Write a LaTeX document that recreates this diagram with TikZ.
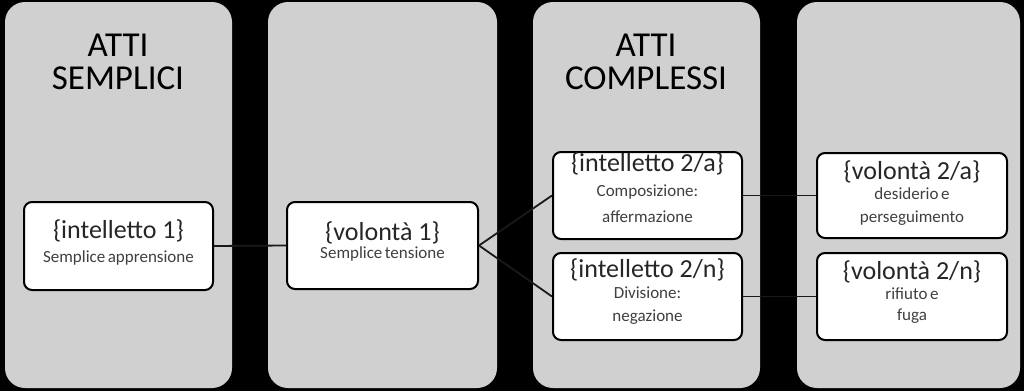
\documentclass[tikz,border=0pt]{standalone}
\usepackage{fontspec}
\setmainfont{Carlito}
\usetikzlibrary{calc}
\definecolor{colgray}{HTML}{D0D0D0}
\definecolor{maintxt}{HTML}{262626}
\definecolor{subtxt}{HTML}{404040}
\newcommand{\nsp}{\hspace{2.5pt}}
\tikzset{
  column/.style={fill=colgray, draw=none, rounded corners=20pt},
  box/.style={draw=black, line width=2pt, fill=white, rounded corners=8pt, inner sep=0pt},
  title/.style={font=\fontsize{35}{33}\selectfont, text=black, inner sep=0pt, align=center},
  maint/.style={font=\fontsize{26}{28}\selectfont, text=maintxt, inner sep=0pt},
  subt/.style={font=\fontsize{17}{19}\selectfont, text=subtxt, inner sep=0pt},
  conn/.style={draw=black!90, line width=1.8pt}
}
\begin{document}
\begin{tikzpicture}[x=1pt,y=-1pt]
\fill[black] (0,0) rectangle (1024,391);
\useasboundingbox (0,0) rectangle (1024,391);
% columns
\path[column] (5,2) rectangle (232,388);
\path[column] (268,2) rectangle (497,388);
\path[column] (533,2) rectangle (760,388);
\path[column] (797,2) rectangle (1020,388);
% titles
\node[title] (t1) at (118,61.5) {ATTI\\SEMPLICI};
\node[title] (t3) at (646,61.5) {ATTI\\COMPLESSI};
% boxes
\node[box, minimum width=189pt, minimum height=88pt] (i1) at (118.5,246) {};
\node[box, minimum width=191pt, minimum height=87pt] (v1) at (382.5,245.5) {};
\node[box, minimum width=189pt, minimum height=87pt] (i2a) at (647.5,195.5) {};
\node[box, minimum width=189pt, minimum height=87pt] (i2n) at (647.5,296.5) {};
\node[box, minimum width=190pt, minimum height=85pt] (v2a) at (912,195.5) {};
\node[box, minimum width=190pt, minimum height=87pt] (v2n) at (912,296.5) {};
% connectors
\draw[conn] (i1.east) -- (v1.west);
\draw[conn] (v1.east) -- (i2a.west);
\draw[conn] (v1.east) -- (i2n.west);
\draw[conn] (i2a.east) -- (v2a.west);
\draw[conn] (i2n.east) -- (v2n.west);
% texts
\node[maint] (i1m) at (118.5,231) {\{intelletto 1\}};
\node[subt] (i1s) at (118.5,258) {Semplice\nsp apprensione};
\node[maint] (v1m) at (382.5,233) {\{volontà 1\}};
\node[subt] (v1s) at (382.5,254) {Semplice\nsp tensione};
\node[maint] (i2am) at (647.5,164) {\{intelletto 2/a\}};
\node[subt] (i2as1) at (647.5,192) {Composizione:};
\node[subt] (i2as2) at (647.5,217) {affermazione};
\node[maint] (i2nm) at (647.5,270) {\{intelletto 2/n\}};
\node[subt] (i2ns1) at (647.5,293) {Divisione:};
\node[subt] (i2ns2) at (647.5,317) {negazione};
\node[maint] (v2am) at (912,172) {\{volontà 2/a\}};
\node[subt] (v2as1) at (912,194) {desiderio\nsp e};
\node[subt] (v2as2) at (912,218) {perseguimento};
\node[maint] (v2nm) at (912,272) {\{volontà 2/n\}};
\node[subt] (v2ns1) at (912,294) {rifiuto\nsp e};
\node[subt] (v2ns2) at (912,316) {fuga};
\end{tikzpicture}
\end{document}
